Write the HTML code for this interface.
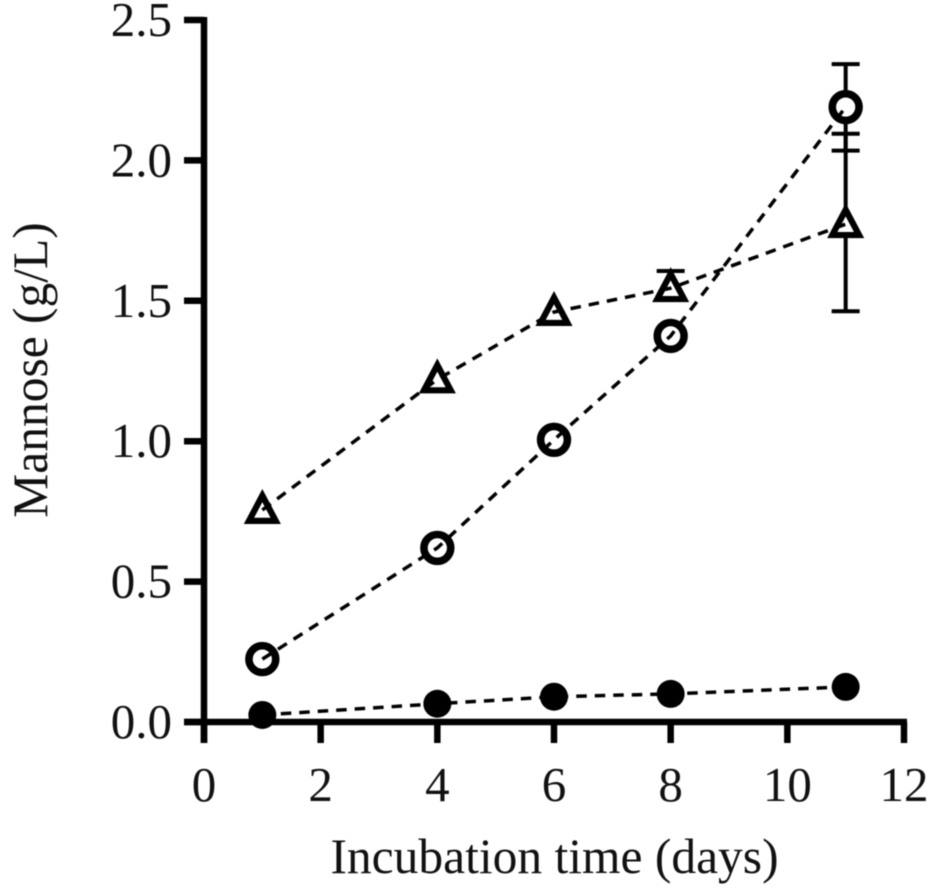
<!DOCTYPE html>
<html>
<head>
<meta charset="utf-8">
<style>
html,body{margin:0;padding:0;background:#fff;}
svg{display:block;filter:blur(0.45px);}
text{font-family:"Liberation Serif",serif;fill:#111;font-size:49px;}
</style>
</head>
<body>
<svg id="chart" width="931" height="895" viewBox="0 0 931 895" xmlns="http://www.w3.org/2000/svg"></svg>
<script>
const days = [1, 4, 6, 8, 11];
const openCircleValues = [0.224, 0.62, 1.005, 1.375, 2.19];
const openCircleUpper = [null, null, null, null, 2.343];
const openCircleLower = [null, null, null, null, 2.035];
const triangleValues = [0.755, 1.22, 1.46, 1.545, 1.773];
const triangleUpper = [null, null, null, 1.606, 2.095];
const triangleLower = [null, null, null, null, 1.463];
const filledCircleValues = [0.025, 0.065, 0.09, 0.1, 0.125];
const xTicks = [0, 2, 4, 6, 8, 10, 12];
const yTicks = ["0.0", "0.5", "1.0", "1.5", "2.0", "2.5"];

const svg = document.getElementById('chart');
const NS = 'http://www.w3.org/2000/svg';
const xScale = v => 204 + v * (904 - 204) / 12;
const yScale = v => 722 - v * (722 - 20) / 2.5;

function make(tag, attrs, parent) {
  const el = document.createElementNS(NS, tag);
  for (const k in attrs) el.setAttribute(k, attrs[k]);
  (parent || svg).appendChild(el);
  return el;
}

// Axes
const axisGroup = make('g', {stroke: '#000', fill: 'none'});


const yAxis = make('line', {x1: 204, x2: 204, y1: yScale(2.5) - 3, y2: 743, 'stroke-width': 6.5}, axisGroup);


const xAxis = make('line', {x1: 184, x2: 907, y1: 722, y2: 722, 'stroke-width': 6.5}, axisGroup);



xTicks.forEach(t => {
  const tick = make('line', {x1: xScale(t), x2: xScale(t), y1: 722, y2: 743, 'stroke-width': 6.5}, axisGroup);
  
  
  const label = make('text', {x: xScale(t), y: 801, 'text-anchor': 'middle'});
  label.textContent = t;
  
  
});

yTicks.forEach(t => {
  const y = yScale(parseFloat(t));
  const tick = make('line', {x1: 184, x2: 204, y1: y, y2: y, 'stroke-width': 6.5}, axisGroup);
  
  
  const label = make('text', {x: 172, y: y + 16, 'text-anchor': 'end'});
  label.textContent = t;
  
  
});

const xTitle = make('text', {x: 554.5, y: 873, 'text-anchor': 'middle', style: 'font-size:49.5px'});
xTitle.textContent = 'Incubation time (days)';



const yTitle = make('text', {x: 0, y: 0, 'text-anchor': 'middle', style: 'font-size:49.5px', transform: 'translate(47 370) rotate(-90)'});
yTitle.textContent = 'Mannose (g/L)';



// Error bars sit beneath the white-filled markers
function drawErrors(values, upper, lower) {
  days.forEach((d, i) => {
    const x = xScale(d);
    if (upper[i] !== null) {
      const bar = make('line', {x1: x, x2: x, y1: yScale(values[i]), y2: yScale(upper[i]), stroke: '#000', 'stroke-width': 4});
      
      
      const cap = make('line', {x1: x - 14, x2: x + 14, y1: yScale(upper[i]), y2: yScale(upper[i]), stroke: '#000', 'stroke-width': 4});
      
      
    }
    if (lower[i] !== null) {
      const bar = make('line', {x1: x, x2: x, y1: yScale(values[i]), y2: yScale(lower[i]), stroke: '#000', 'stroke-width': 4});
      
      
      const cap = make('line', {x1: x - 14, x2: x + 14, y1: yScale(lower[i]), y2: yScale(lower[i]), stroke: '#000', 'stroke-width': 4});
      
      
    }
  });
}
drawErrors(openCircleValues, openCircleUpper, openCircleLower);
drawErrors(triangleValues, triangleUpper, triangleLower);

// Markers
days.forEach((d, i) => {
  const x = xScale(d);
  const filled = make('circle', {cx: x, cy: yScale(filledCircleValues[i]), r: 14, fill: '#000'});
  
  

  const open = make('circle', {cx: x, cy: yScale(openCircleValues[i]), r: 13.4, fill: '#fff', stroke: '#000', 'stroke-width': 7.6});
  
  

  const ty = yScale(triangleValues[i]);
  const tri = make('polygon', {
    points: [[x, ty - 14.4], [x + 13.4, ty + 10.9], [x - 13.4, ty + 10.9]].map(p => p.join(',')).join(' '),
    fill: '#fff', stroke: '#000', 'stroke-width': 6.2, 'stroke-linejoin': 'miter', 'stroke-miterlimit': 6
  });
  
  
});

// Dashed series lines run over the marker interiors
function drawLine(values) {
  const pts = days.map((d, i) => xScale(d) + ',' + yScale(values[i])).join(' ');
  const line = make('polyline', {points: pts, fill: 'none', stroke: '#000', 'stroke-width': 3.5, 'stroke-dasharray': '10.5 8'});
  
  
}
drawLine(filledCircleValues);
drawLine(openCircleValues);
drawLine(triangleValues);
</script>
</body>
</html>
